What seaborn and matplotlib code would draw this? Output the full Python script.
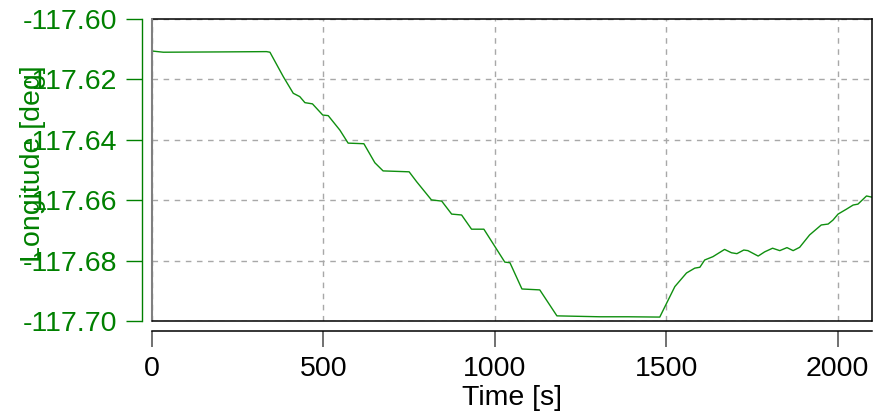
import numpy as np
import pandas as pd
import matplotlib
matplotlib.use("Agg")
import matplotlib.pyplot as plt
import matplotlib.ticker as mticker
import seaborn as sns

time_s = [0, 33, 200, 334, 344, 383, 412, 431, 446, 468, 498, 514, 548, 572, 618,
          650, 674, 750, 772, 815, 845, 874, 903, 932, 968, 1029, 1044, 1079, 1131, 1181,
          1306, 1388, 1481, 1501, 1525, 1559, 1583, 1598, 1612, 1636, 1670, 1690, 1706,
          1726, 1738, 1768, 1787, 1810, 1831, 1852, 1870, 1889, 1918, 1952, 1972, 1986,
          2001, 2025, 2045, 2059, 2084, 2100]
longitude = [-117.6106, -117.6110, -117.6109, -117.6108, -117.6110, -117.6191, -117.6246,
             -117.6257, -117.6277, -117.6281, -117.6318, -117.6320, -117.6368, -117.6411,
             -117.6413, -117.6476, -117.6503, -117.6506, -117.6539, -117.6599, -117.6603,
             -117.6646, -117.6649, -117.6696, -117.6696, -117.6805, -117.6807, -117.6894,
             -117.6897, -117.6983, -117.6986, -117.6986, -117.6987, -117.6941, -117.6886,
             -117.6841, -117.6825, -117.6822, -117.6798, -117.6787, -117.6763, -117.6774,
             -117.6777, -117.6765, -117.6767, -117.6785, -117.6771, -117.6759, -117.6767,
             -117.6757, -117.6767, -117.6756, -117.6715, -117.6682, -117.6679, -117.6666,
             -117.6646, -117.6630, -117.6616, -117.6613, -117.6586, -117.6590]
x_ticks = [0, 500, 1000, 1500, 2000]
y_ticks = [-117.70, -117.68, -117.66, -117.64, -117.62, -117.60]
x_label = "Time [s]"
y_label = "Longitude [deg]"

sns.set_style("white")
plt.rcParams['font.family'] = ['Liberation Sans', 'DejaVu Sans']

GREEN = '#008000'
LINE_GREEN = '#0f8f0f'
FS = 20.5

fig = plt.figure(figsize=(8.83, 4.15), dpi=100)
ax = fig.add_axes([152/883, 1 - 321/415, 720/883, 302/415])

df = pd.DataFrame({"t": time_s, "lon": longitude})
sns.lineplot(data=df, x="t", y="lon", ax=ax, color=LINE_GREEN, linewidth=1.0)

ax.set_xlim(0, 2100)
ax.set_ylim(-117.70, -117.60)
ax.xaxis.set_major_locator(mticker.FixedLocator(x_ticks))
ax.yaxis.set_major_locator(mticker.FixedLocator(y_ticks))
ax.yaxis.set_major_formatter(mticker.FormatStrFormatter('%.2f'))

ax.grid(True, linestyle=(0, (4, 4)), color='#a8a8a8', linewidth=1.0)

# offset axes spines
ax.spines['left'].set_position(('outward', 7))
ax.spines['left'].set_color(GREEN)
ax.spines['left'].set_linewidth(1.0)
ax.spines['bottom'].set_position(('outward', 7))
ax.spines['bottom'].set_color('black')
ax.spines['bottom'].set_linewidth(1.1)
for s in ['top', 'right']:
    ax.spines[s].set_color('black')
    ax.spines[s].set_linewidth(1.1)
    ax.spines[s].set_visible(True)

# frame box edges at data limits
ax.plot([0, 0], [0, 1], transform=ax.transAxes, color='#808080', lw=1.5, clip_on=False, zorder=5)
ax.plot([0, 1], [0, 0], transform=ax.transAxes, color='black', lw=1.1, clip_on=False, zorder=5)

ax.tick_params(axis='y', which='major', direction='out', length=11.5, width=1.0,
               color=GREEN, labelcolor=GREEN, labelsize=FS, pad=6.5, left=True)
ax.tick_params(axis='x', which='major', direction='out', length=11.5, width=1.4,
               color='#707070', labelcolor='black', labelsize=FS, pad=7, bottom=True)

ax.set_xlabel(x_label, fontsize=FS, color='black')
ax.set_ylabel(y_label, fontsize=FS, color=GREEN)
ax.xaxis.set_label_coords(0.5, -0.255)
ax.xaxis.label.set_verticalalignment('center')
ax.yaxis.set_label_coords(-0.165, 0.52)
ax.yaxis.label.set_verticalalignment('center')

fig.savefig("out.png", dpi=100)
